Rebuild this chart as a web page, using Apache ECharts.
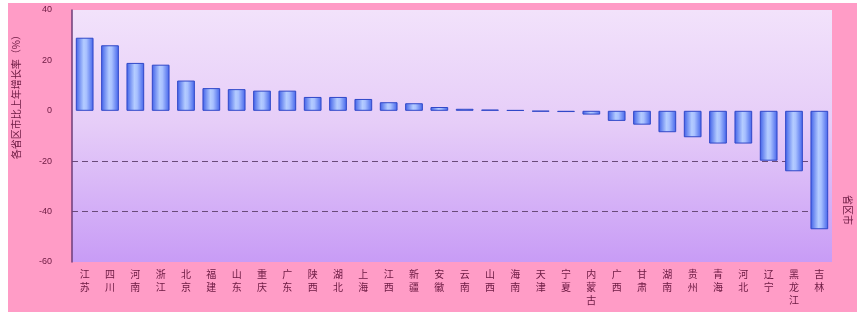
<!DOCTYPE html>
<html>
<head>
<meta charset="utf-8">
<script src="https://cdn.jsdelivr.net/npm/echarts@6/dist/echarts.min.js"></script>
<style>
html, body { margin: 0; padding: 0; background: #ffffff; }
#frame { position: absolute; left: 8px; top: 3px; width: 849px; height: 309px; background: #ff9cc6; }
#chart { position: absolute; left: 0; top: 0; width: 857px; height: 315px; }
</style>
</head>
<body>
<div id="frame"></div>
<div id="chart"></div>
<script>
// 省份与数值
var provinces = ['江苏', '四川', '河南', '浙江', '北京', '福建', '山东', '重庆', '广东', '陕西',
  '湖北', '上海', '江西', '新疆', '安徽', '云南', '山西', '海南', '天津', '宁夏',
  '内蒙古', '广西', '甘肃', '湖南', '贵州', '青海', '河北', '辽宁', '黑龙江', '吉林']
var values = [29, 26, 19, 18.3, 12, 9, 8.6, 8, 8, 5.5,
  5.5, 4.7, 3.4, 3, 1.5, 0.8, 0.5, 0.3, -0.3, -0.5,
  -1.5, -4, -5.5, -8.5, -10.5, -13, -13, -19.8, -24, -47]
var yTicks = { min: -60, max: 40, interval: 20 }
var yTitle = '各省区市比上年增长率（%）'
var xTitle = '省区市'

var myChart = echarts.init(document.getElementById('chart'))

var barColor = new echarts.graphic.LinearGradient(0, 0, 1, 0, [
  { offset: 0, color: '#3f5fe8' },
  { offset: 0.45, color: '#b4ccff' },
  { offset: 0.6, color: '#a8c0ff' },
  { offset: 1, color: '#4262ea' }
])

var option = {
  backgroundColor: 'transparent',
  animation: false,
  grid: {
    left: 72,
    right: 25,
    top: 10,
    bottom: 53,
    show: true,
    borderWidth: 0,
    backgroundColor: new echarts.graphic.LinearGradient(0, 0, 0, 1, [
      { offset: 0, color: '#f2e2fb' },
      { offset: 0.45, color: '#e6cdf8' },
      { offset: 1, color: '#c89cf6' }
    ])
  },
  xAxis: {
    type: 'category',
    data: provinces,
    axisLine: { show: false },
    axisTick: { show: false },
    axisLabel: {
      interval: 0,
      margin: 6,
      color: '#6a1840',
      fontSize: 10,
      lineHeight: 13,
      fontFamily: 'Noto Sans CJK SC',
      formatter: function (v) { return v.split('').join('\n') }
    }
  },
  yAxis: {
    type: 'value',
    min: yTicks.min,
    max: yTicks.max,
    interval: yTicks.interval,
    axisLine: { show: true, onZero: false, lineStyle: { color: '#6e3c78', width: 1.5 } },
    axisTick: { show: false },
    axisLabel: { color: '#6a1840', fontSize: 9, margin: 20 },
    splitLine: {
      show: true,
      lineStyle: {
        // 只在 -20、-40 处画虚线
        color: ['transparent', '#6a4a7a', '#6a4a7a', 'transparent', 'transparent', 'transparent'],
        type: [6, 4],
        width: 1
      }
    }
  },
  graphic: [
    {
      type: 'text',
      left: 11,
      top: 30,
      rotation: Math.PI / 2,
      style: { text: yTitle, fill: '#6a1840', font: '10px "Noto Sans CJK SC"' }
    },
    {
      type: 'text',
      right: 4,
      top: 195,
      rotation: -Math.PI / 2,
      style: { text: xTitle, fill: '#6a1840', font: '10px "Noto Sans CJK SC"' }
    }
  ],
  series: [
    {
      type: 'bar',
      data: values,
      barWidth: '70%',
      itemStyle: {
        color: barColor,
        borderColor: '#3048c8',
        borderWidth: 1
      }
    }
  ]
}
myChart.setOption(option)
</script>
</body>
</html>
